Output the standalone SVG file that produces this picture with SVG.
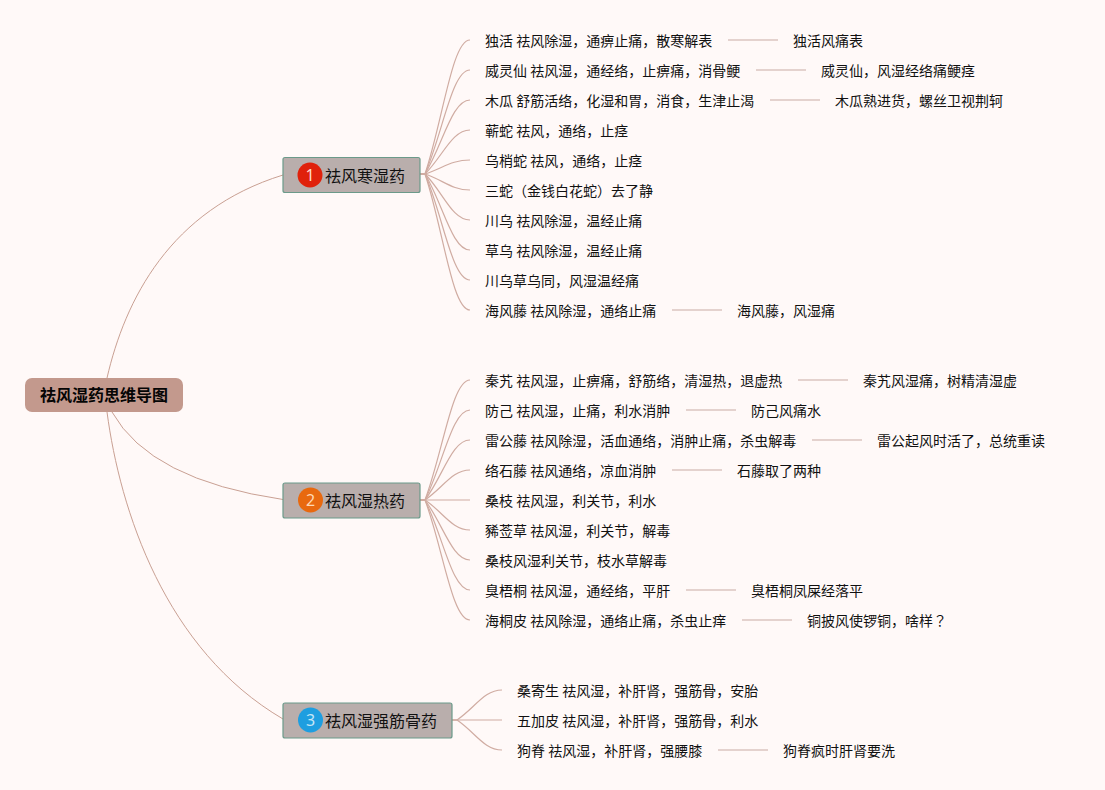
<svg xmlns="http://www.w3.org/2000/svg" width="1105" height="790" viewBox="0 0 1105 790">
<style>
text{font-family:"Noto Sans CJK SC","Noto Sans",sans-serif;fill:#111}
.l{font-size:14px}
.t{font-size:16px}
.r{font-size:16px;font-weight:700;fill:#050505}
.n{font-size:16px;font-family:"Noto Sans","Noto Sans CJK SC",sans-serif;text-anchor:middle}
.box{fill:#b9aeac;stroke:#6b9a8a;stroke-width:1.2}
.c{fill:none;stroke:#d0aca2;stroke-width:1.2}
.m{fill:none;stroke:#c9a093;stroke-width:1}
.s{fill:none;stroke:#e4d2ce;stroke-width:2}
</style>
<rect width="1105" height="790" fill="#fff9f8"/>
<g id="connectors">
<path class="m" d="M107 378C125 300 170 210 283 175"/>
<path class="m" d="M112 412Q150 480 283 499.500"/>
<path class="m" d="M107 412C120 510 165 650 283 719"/>
<path class="c" d="M420 174H425C443 120 452 40 470 40"/>
<path class="c" d="M420 174H425C443 132 452 70 470 70"/>
<path class="c" d="M420 174H425C443 144 452 100 470 100"/>
<path class="c" d="M420 174H425C443 156 452 130 470 130"/>
<path class="c" d="M420 174H425C443 168 452 160 470 160"/>
<path class="c" d="M420 174H425C443 180 452 190 470 190"/>
<path class="c" d="M420 174H425C443 192 452 220 470 220"/>
<path class="c" d="M420 174H425C443 204 452 250 470 250"/>
<path class="c" d="M420 174H425C443 216 452 280 470 280"/>
<path class="c" d="M420 174H425C443 228 452 310 470 310"/>
<path class="c" d="M420 500H425C443 452 452 380 470 380"/>
<path class="c" d="M420 500H425C443 464 452 410 470 410"/>
<path class="c" d="M420 500H425C443 476 452 440 470 440"/>
<path class="c" d="M420 500H425C443 488 452 470 470 470"/>
<path class="c" d="M420 500H470"/>
<path class="c" d="M420 500H425C443 512 452 530 470 530"/>
<path class="c" d="M420 500H425C443 524 452 560 470 560"/>
<path class="c" d="M420 500H425C443 536 452 590 470 590"/>
<path class="c" d="M420 500H425C443 548 452 620 470 620"/>
<path class="c" d="M452 720H457C475 708 484 690 502 690"/>
<path class="c" d="M452 720H502"/>
<path class="c" d="M452 720H457C475 732 484 750 502 750"/>
<path class="s" d="M728 40H778"/>
<path class="s" d="M756 70H806"/>
<path class="s" d="M770 100H820"/>
<path class="s" d="M672 310H722"/>
<path class="s" d="M798 380H848"/>
<path class="s" d="M686 410H736"/>
<path class="s" d="M812 440H862"/>
<path class="s" d="M672 470H722"/>
<path class="s" d="M686 590H736"/>
<path class="s" d="M742 620H792"/>
<path class="s" d="M718 750H768"/>
</g>
<g id="root">
<rect x="25" y="378" width="158" height="34" rx="7" fill="#c3998d"/>
<text class="r" x="40" y="401">祛风湿药思维导图</text>
</g>
<g id="cat1">
<rect class="box" x="283" y="157.500" width="137" height="35" rx="2"/>
<circle cx="310" cy="175" r="12.500" fill="#e0210b"/>
<text class="n" x="310" y="181" style="fill:#ffd9c9">1</text>
<text class="t" x="325" y="181.500">祛风寒湿药</text>
</g>
<g id="cat2">
<rect class="box" x="283" y="483" width="137" height="35" rx="2"/>
<circle cx="310.500" cy="500" r="12.500" fill="#e8690f"/>
<text class="n" x="310.500" y="506" style="fill:#ffd9b5">2</text>
<text class="t" x="325" y="507">祛风湿热药</text>
</g>
<g id="cat3">
<rect class="box" x="283" y="703" width="169" height="35" rx="2"/>
<circle cx="310.500" cy="720" r="12.500" fill="#1e9ee0"/>
<text class="n" x="310.500" y="726" style="fill:#c5e6f7">3</text>
<text class="t" x="325" y="727">祛风湿强筋骨药</text>
</g>
<g id="leaves1">
<text class="l" x="485" y="46">独活 祛风除湿，通痹止痛，散寒解表</text>
<text class="l" x="793" y="46">独活风痛表</text>
<text class="l" x="485" y="76">威灵仙 祛风湿，通经络，止痹痛，消骨鲠</text>
<text class="l" x="821" y="76">威灵仙，风湿经络痛鲠痉</text>
<text class="l" x="485" y="106">木瓜 舒筋活络，化湿和胃，消食，生津止渴</text>
<text class="l" x="835" y="106">木瓜熟进货，螺丝卫视荆轲</text>
<text class="l" x="485" y="136">蕲蛇 祛风，通络，止痉</text>
<text class="l" x="485" y="166">乌梢蛇 祛风，通络，止痉</text>
<text class="l" x="485" y="196">三蛇（金钱白花蛇）去了静</text>
<text class="l" x="485" y="226">川乌 祛风除湿，温经止痛</text>
<text class="l" x="485" y="256">草乌 祛风除湿，温经止痛</text>
<text class="l" x="485" y="286">川乌草乌同，风湿温经痛</text>
<text class="l" x="485" y="316">海风藤 祛风除湿，通络止痛</text>
<text class="l" x="737" y="316">海风藤，风湿痛</text>
</g>
<g id="leaves2">
<text class="l" x="485" y="386">秦艽 祛风湿，止痹痛，舒筋络，清湿热，退虚热</text>
<text class="l" x="863" y="386">秦艽风湿痛，树精清湿虚</text>
<text class="l" x="485" y="416">防己 祛风湿，止痛，利水消肿</text>
<text class="l" x="751" y="416">防己风痛水</text>
<text class="l" x="485" y="446">雷公藤 祛风除湿，活血通络，消肿止痛，杀虫解毒</text>
<text class="l" x="877" y="446">雷公起风时活了，总统重读</text>
<text class="l" x="485" y="476">络石藤 祛风通络，凉血消肿</text>
<text class="l" x="737" y="476">石藤取了两种</text>
<text class="l" x="485" y="506">桑枝 祛风湿，利关节，利水</text>
<text class="l" x="485" y="536">豨莶草 祛风湿，利关节，解毒</text>
<text class="l" x="485" y="566">桑枝风湿利关节，枝水草解毒</text>
<text class="l" x="485" y="596">臭梧桐 祛风湿，通经络，平肝</text>
<text class="l" x="751" y="596">臭梧桐凤屎经落平</text>
<text class="l" x="485" y="626">海桐皮 祛风除湿，通络止痛，杀虫止痒</text>
<text class="l" x="807" y="626">铜披风使锣铜，啥样<tspan style="font-family:'Noto Sans CJK TC',sans-serif">？</tspan></text>
</g>
<g id="leaves3">
<text class="l" x="517" y="696">桑寄生 祛风湿，补肝肾，强筋骨，安胎</text>
<text class="l" x="517" y="726">五加皮 祛风湿，补肝肾，强筋骨，利水</text>
<text class="l" x="517" y="756">狗脊 祛风湿，补肝肾，强腰膝</text>
<text class="l" x="783" y="756">狗脊疯时肝肾要洗</text>
</g>
</svg>
